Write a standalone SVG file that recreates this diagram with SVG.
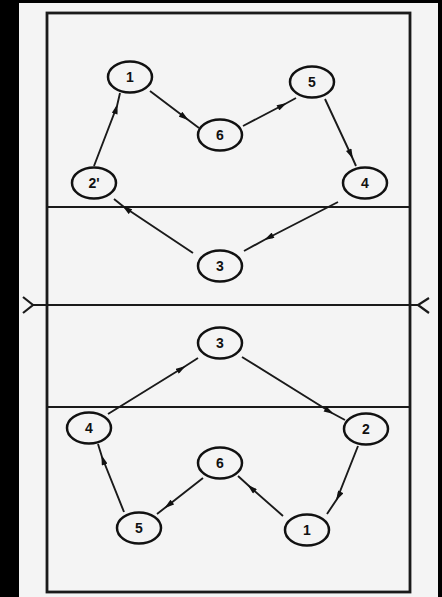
<svg xmlns="http://www.w3.org/2000/svg" width="442" height="597" viewBox="0 0 442 597">
<defs>
<style>
.court{fill:none;stroke:#1a1a1a;stroke-width:2.8}
.ln{fill:none;stroke:#1a1a1a;stroke-width:2.2}
.c ellipse{fill:none;stroke:#111;stroke-width:2.5}
.c text{font-family:"Liberation Sans",Arial,sans-serif;font-weight:bold;font-size:14px;fill:#111;text-anchor:middle}
.arr{fill:none;stroke:#1a1a1a;stroke-width:1.9;marker-mid:url(#ah)}
</style>
<marker id="ah" viewBox="0 0 10 6" refX="8" refY="3" markerWidth="11" markerHeight="6" markerUnits="userSpaceOnUse" orient="auto">
<path d="M0,0 L10,3 L0,6 Z" fill="#111"/>
</marker>
</defs>
<rect x="0" y="0" width="442" height="597" fill="#000"/>
<rect x="19" y="3" width="419" height="594" fill="#f4f4f4"/>
<g id="court">
<rect class="court" x="47" y="13" width="363" height="579"/>
<line class="ln" x1="47" y1="207" x2="410" y2="207"/>
<line class="ln" x1="47" y1="407" x2="410" y2="407"/>
<line class="ln" x1="33" y1="305" x2="418" y2="305"/>
<path class="ln" d="M23,297 L33,305 L23,313"/>
<path class="ln" d="M429,298 L418,305 L429,313"/>
</g>
<g id="connectors">
<path class="arr" d="M94,166 L117,106 L120,93"/>
<path class="arr" d="M150,91 L187,119 L199,128"/>
<path class="arr" d="M243,126 L285,104 L296,98"/>
<path class="arr" d="M325,99 L352,157 L356,166"/>
<path class="arr" d="M338,202 L266,239 L244,251"/>
<path class="arr" d="M193,253 L124,207 L114,199"/>
<path class="arr" d="M108,414 L184,367 L198,358"/>
<path class="arr" d="M242,357 L332,413 L345,420"/>
<path class="arr" d="M358,446 L337,499 L327,514"/>
<path class="arr" d="M283,516 L249,486 L238,476"/>
<path class="arr" d="M203,478 L166,507 L157,514"/>
<path class="arr" d="M124,512 L102,457 L98,444"/>
</g>
<g id="t1" class="c"><ellipse cx="130" cy="77" rx="22" ry="15.5"/><text x="130" y="82">1</text></g>
<g id="t6" class="c"><ellipse cx="220" cy="135" rx="22" ry="15.5"/><text x="220" y="140">6</text></g>
<g id="t5" class="c"><ellipse cx="312" cy="82" rx="22" ry="15.5"/><text x="312" y="87">5</text></g>
<g id="t2" class="c"><ellipse cx="94" cy="183" rx="22" ry="15.5"/><text x="94" y="188">2'</text></g>
<g id="t4" class="c"><ellipse cx="365" cy="183" rx="22" ry="15.5"/><text x="365" y="188">4</text></g>
<g id="t3" class="c"><ellipse cx="220" cy="266" rx="22" ry="15.5"/><text x="220" y="271">3</text></g>
<g id="b3" class="c"><ellipse cx="220" cy="343" rx="22" ry="15.5"/><text x="220" y="348">3</text></g>
<g id="b4" class="c"><ellipse cx="89" cy="428" rx="22" ry="15.5"/><text x="89" y="433">4</text></g>
<g id="b2" class="c"><ellipse cx="366" cy="429" rx="22" ry="15.5"/><text x="366" y="434">2</text></g>
<g id="b6" class="c"><ellipse cx="220" cy="463" rx="22" ry="15.5"/><text x="220" y="468">6</text></g>
<g id="b5" class="c"><ellipse cx="139" cy="528" rx="22" ry="15.5"/><text x="139" y="533">5</text></g>
<g id="b1" class="c"><ellipse cx="307" cy="530" rx="22" ry="15.5"/><text x="307" y="535">1</text></g>
</svg>
